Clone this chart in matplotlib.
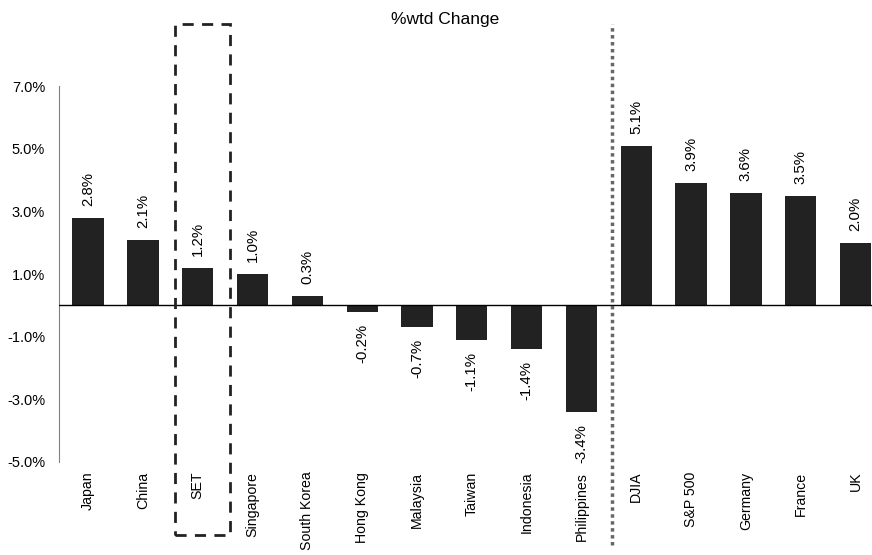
import matplotlib.pyplot as plt
import matplotlib.transforms as mtransforms
from matplotlib.patches import Rectangle

categories = ["Japan", "China", "SET", "Singapore", "South Korea", "Hong Kong",
              "Malaysia", "Taiwan", "Indonesia", "Philippines",
              "DJIA", "S&P 500", "Germany", "France", "UK"]
values = [2.8, 2.1, 1.2, 1.0, 0.3, -0.2, -0.7, -1.1, -1.4, -3.4,
          5.1, 3.9, 3.6, 3.5, 2.0]
yticks = [-5, -3, -1, 1, 3, 5, 7]

plt.rcParams["font.family"] = ["Liberation Sans", "DejaVu Sans"]

fig = plt.figure(figsize=(8.72, 5.55), dpi=100)
ax = fig.add_axes([0.0677, 0.1676, 0.9323, 0.6774])

x = range(len(categories))
ax.bar(x, values, width=0.57, color="#222222", zorder=2)
ax.axhline(0, color="black", lw=1.0, zorder=3)

for i, v in enumerate(values):
    if v >= 0:
        ax.text(i, v + 0.38, f"{v:.1f}%", rotation=90, ha="center", va="bottom", fontsize=10.8)
    else:
        ax.text(i, v - 0.38, f"{v:.1f}%", rotation=90, ha="center", va="top", fontsize=10.8)

ax.set_xlim(-0.53, 14.3)
ax.set_ylim(-5, 7)
ax.set_yticks(yticks)
ax.set_yticklabels([f"{t:.1f}%" for t in yticks], fontsize=10.5)
ax.set_xticks(list(x))
ax.set_xticklabels(categories, rotation=90, fontsize=10.2, va="top")
ax.tick_params(axis="x", length=0, pad=7)
ax.tick_params(axis="y", length=0, pad=10)

for s in ["top", "right", "bottom"]:
    ax.spines[s].set_visible(False)
ax.spines["left"].set_color("#808080")
ax.spines["left"].set_linewidth(0.8)

# dashed box around SET, spanning beyond the axes
trans = mtransforms.blended_transform_factory(ax.transData, ax.transAxes)
ax.add_patch(Rectangle((1.58, -0.195), 1.0, 1.36, transform=trans, fill=False,
                       ls=(0, (4, 3)), lw=2, ec="#222222", clip_on=False, zorder=4))

# dotted separator between Asia and US/Europe
ax.plot([9.56, 9.56], [-0.22, 1.165], transform=trans, color="#666666",
        lw=2.5, ls=(0, (1, 1)), clip_on=False, zorder=4)

fig.text(0.51, 0.965, "%wtd Change", ha="center", va="center", fontsize=12.5)

fig.savefig("out.png", dpi=100)
